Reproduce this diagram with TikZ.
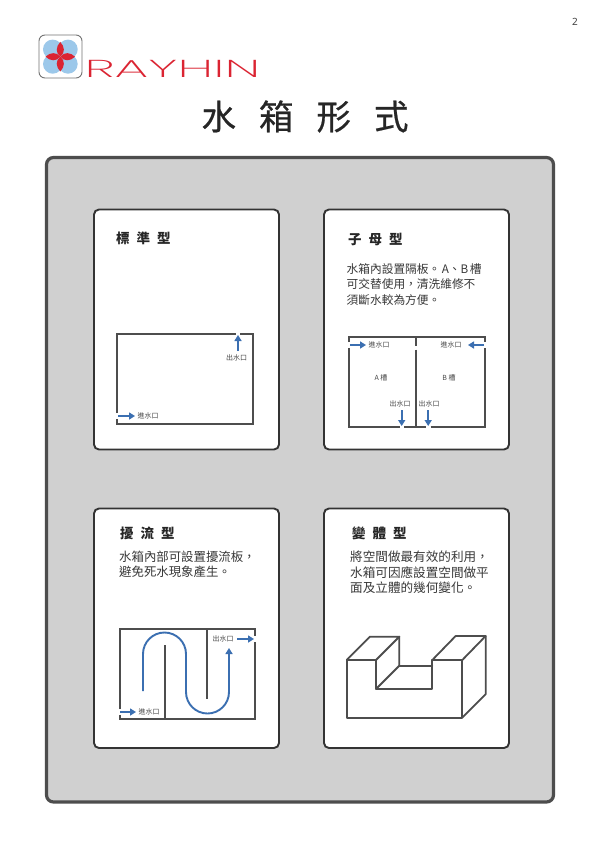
\documentclass[tikz,border=0pt]{standalone}
\usepackage{fontspec}
\usetikzlibrary{arrows.meta}
\setmainfont{Noto Sans}
\newfontfamily\cjk{Noto Sans CJK TC}
\newfontfamily\cjktitle[FakeBold=0.6]{Noto Sans CJK TC}
\newfontfamily\logofont{Poppins ExtraLight}
\definecolor{wall}{HTML}{4D4D4D}
\definecolor{flow}{HTML}{3B6FB1}
\definecolor{panel}{HTML}{D0D0D0}
\definecolor{edge}{HTML}{333333}
\definecolor{petal}{HTML}{DB2432}
\definecolor{disc}{HTML}{9CC8EA}
\newcommand{\gapped}[2]{\spaceskip=#1pt\relax #2}
\newcommand{\fwcomma}{^^^^ff0c}
\tikzset{
  x=1pt,y=-1pt,
  card/.style={draw=edge,fill=white,line width=1.9pt,rounded corners=5pt},
  tankwall/.style={draw=wall,line width=2pt,line cap=butt,line join=miter},
  baffle/.style={draw=wall,line width=1.8pt},
  flowline/.style={draw=flow,line width=1.9pt,-{Triangle[length=6pt,width=7pt]}},
  heading/.style={font=\cjk\bfseries\fontsize{13.5}{14}\selectfont,text=black!85,inner sep=0pt,anchor=west},
  bodytext/.style={text=black!78,inner sep=0pt,anchor=west},
  tag/.style={font=\cjk\fontsize{7}{8}\selectfont,text=black!72,inner sep=0pt},
  solid3d/.style={draw=wall,line width=1.8pt,line join=round,line cap=round},
}
\newcommand{\bodysize}[1]{\cjk\fontsize{#1}{#1}\selectfont}
\begin{document}
\begin{tikzpicture}
\useasboundingbox (0,0) rectangle (600,849);
\fill[white] (0,0) rectangle (600,849);
\node[font=\fontsize{10}{12}\selectfont,text=black!75,inner sep=0pt] (pageno) at (575,22) {2};
% logo
\draw[draw=black!55,fill=white,line width=0.9pt,rounded corners=6pt] (39,35) rectangle (82,78);
\foreach \cx/\cy in {52.7/49.3,68/49.3,52.7/64,68/64}
  \fill[disc] (\cx,\cy) circle (9.7);
\begin{scope}[shift={(60.3,56.7)}]
\foreach \a in {0,90,180,270}
  \fill[petal,rotate=\a] (0,0) .. controls (5,-4) and (4.5,-10) .. (0,-14.8) .. controls (-4.5,-10) and (-5,-4) .. (0,0) -- cycle;
\end{scope}
\node[inner sep=0pt,text=petal,xscale=2.15,yscale=0.98] (logoword) at (172.5,69) {\logofont\fontsize{25}{25}\selectfont RAYHIN};
% title
\node[font=\cjktitle\fontsize{34.5}{38}\selectfont,text=black!85,inner sep=0pt] (title) at (305,116.5) {\gapped{23}{水 箱 形 式}};
% panel
\draw[draw=wall,fill=panel,line width=3.2pt,rounded corners=7pt] (46.5,157.5) rectangle (553.5,802);
\draw[card] (94,209.5) rectangle (279,449.5);
\draw[card] (324,209.5) rectangle (509,449.5);
\draw[card] (94,508.5) rectangle (279,748);
\draw[card] (324,508.5) rectangle (509,748);
% card 1
\node[heading] (h1) at (116,238.5) {\gapped{7}{標 準 型}};
\draw[tankwall] (117,413) -- (117,333.5) -- (235.5,333.5);
\draw[tankwall] (240,333.5) -- (253,333.5) -- (253,424) -- (117,424) -- (117,419);
\coordinate (a1s) at (118,416); \coordinate (a1e) at (135,416);
\coordinate (a2s) at (238,351); \coordinate (a2e) at (238,335);
\draw[flowline] (a1s) -- (a1e);
\draw[flowline] (a2s) -- (a2e);
\node[tag] (t1) at (236.5,358) {出水口};
\node[tag] (t2) at (148,416) {進水口};
% card 2
\node[heading] (h2) at (348,239) {\gapped{7}{子 母 型}};
\node[bodytext,font=\bodysize{11.7}] (b21) at (346.5,269) {水箱內設置隔板。\kern1.5pt A、B\kern1.5pt 槽};
\node[bodytext,font=\bodysize{11.7}] (b22) at (346.5,284.5) {可交替使用\fwcomma 清洗維修不};
\node[bodytext,font=\bodysize{11.7}] (b23) at (346.5,300) {須斷水較為方便。};
\draw[tankwall] (349,342) -- (349,336.5) -- (485,336.5) -- (485,342);
\draw[tankwall] (349,348) -- (349,427) -- (400,427);
\draw[tankwall] (404,427) -- (426,427);
\draw[tankwall] (430.5,427) -- (485,427) -- (485,348);
\draw[tankwall] (416,336.5) -- (416,346);
\draw[tankwall] (416,349.5) -- (416,427);
\draw[flowline] (350,345) -- (366,345);
\draw[flowline] (484,345) -- (468,345);
\draw[flowline] (401.7,410) -- (401.7,426);
\draw[flowline] (428.2,410) -- (428.2,426);
\node[tag] (t3) at (379,345) {進水口};
\node[tag] (t4) at (451,345) {進水口};
\node[tag] (t5) at (381,377.5) {A 槽};
\node[tag] (t6) at (449,377.5) {B 槽};
\node[tag] (t7) at (400,404) {出水口};
\node[tag] (t8) at (429,404) {出水口};
% card 3
\node[heading] (h3) at (120,533) {\gapped{7}{擾 流 型}};
\node[bodytext,font=\bodysize{12.4}] (b31) at (119,557) {水箱內部可設置擾流板\fwcomma};
\node[bodytext,font=\bodysize{12.4}] (b32) at (119,572) {避免死水現象產生。};
\draw[tankwall] (119.5,709) -- (119.5,628.5) -- (255,628.5) -- (255,636);
\draw[tankwall] (255,642) -- (255,719) -- (119.5,719) -- (119.5,715);
\draw[baffle] (165,645) -- (165,719);
\draw[baffle] (207,628.5) -- (207,699);
\draw[flowline] (143,691) -- (143,654) arc[start angle=180,end angle=360,radius=21.5] -- (186,692) arc[start angle=180,end angle=0,radius=21.5] -- (229,648);
\draw[flowline] (237,639) -- (254,639);
\draw[flowline] (120,712) -- (136,712);
\node[tag] (t9) at (223,639) {出水口};
\node[tag] (t10) at (149,712) {進水口};
% card 4
\node[heading] (h4) at (352,533) {\gapped{7}{變 體 型}};
\node[bodytext,font=\bodysize{12.6}] (b41) at (350,557) {將空間做最有效的利用\fwcomma};
\node[bodytext,font=\bodysize{12.6}] (b42) at (350,572.5) {水箱可因應設置空間做平};
\node[bodytext,font=\bodysize{12.6}] (b43) at (350,588) {面及立體的幾何變化。};
\begin{scope}[shift={(320,505)},x=0.3333pt,y=-0.3333pt]
\draw[solid3d] (80,465) -- (168,465) -- (168,552) -- (337,552) -- (337,465) -- (427,465) -- (427,638) -- (80,638) -- cycle;
\draw[solid3d] (80,465) -- (150,395) -- (238,395) -- (168,465);
\draw[solid3d] (238,395) -- (238,482) -- (168,552);
\draw[solid3d] (238,482) -- (337,482);
\draw[solid3d] (337,465) -- (407,393) -- (497,393) -- (427,465);
\draw[solid3d] (497,393) -- (497,568) -- (427,638);
\end{scope}
\end{tikzpicture}
\end{document}
